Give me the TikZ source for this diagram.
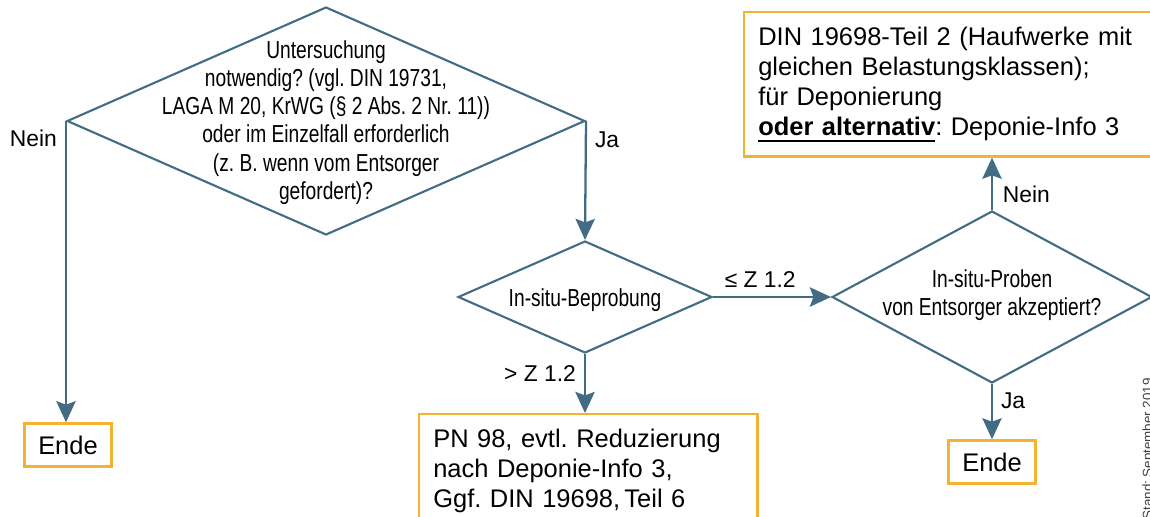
\documentclass[tikz,border=0pt]{standalone}
\usepackage{fontspec}
\setmainfont{Liberation Sans}
\newfontfamily\condfont[FakeStretch=0.78]{Liberation Sans}
\usetikzlibrary{arrows.meta,shapes.geometric,positioning}
\definecolor{flowblue}{RGB}{66,108,132}
\definecolor{boxorange}{RGB}{245,177,48}
\newcommand\dlines[2][0pt]% Syntax: [raise] {lines}, text centred without size
    {\makebox[0pt]{\raisebox{#1}[0pt][0pt]{\parbox[c]{9cm}{\centering #2}}}}
\newcommand\thickul[1]% heavy underline
    {\leavevmode\setbox0\hbox{#1}\rlap{\rule[-3.6pt]{\wd0}{1.1pt}}\box0}
\frenchspacing

\begin{document}
\begin{tikzpicture}
    [x=0.02cm,y=-0.02cm,
     decision/.style={diamond,draw=flowblue,line width=1.2pt,inner sep=0pt,
         font={\condfont\fontsize{14}{16}\selectfont}},
     result/.style={draw=boxorange,line width=1.4pt,inner xsep=8pt,inner ysep=8.5pt,
         align=left,font={\fontsize{14.5}{17}\selectfont}},
     ende/.style={draw=boxorange,line width=1.4pt,minimum width=1.74cm,minimum height=0.86cm,
         inner sep=0pt,font={\fontsize{14.5}{17}\selectfont}},
     flow/.style={draw=flowblue,line width=1.3pt,-{Stealth[length=12pt,width=11pt,inset=2pt]}},
     choice/.style={font={\fontsize{13}{15}\selectfont},inner sep=0pt}]

    \useasboundingbox (0,0) rectangle (1150,517);
    \clip (0,0) rectangle (1150,517);

    % decisions
    \node[decision,minimum width=10.36cm,minimum height=4.56cm] (check) at (326,121)
        {\dlines[-4.5pt]{Untersuchung\\notwendig? (vgl. DIN 19731,\\LAGA M 20, KrWG (§ 2 Abs. 2 Nr. 11))\\oder im Einzelfall erforderlich\\(z. B. wenn vom Entsorger\\gefordert)?}};
    \node[decision,minimum width=5.08cm,minimum height=2.24cm] (insitu) at (585,297)
        {\dlines[-5.5pt]{In-situ-Beprobung}};
    \node[decision,minimum width=6.4cm,minimum height=3.44cm] (accept) at (992,297)
        {\dlines[-2.5pt]{In-situ-Proben\\von Entsorger akzeptiert?}};

    % results
    \node[ende] (stop1) at (68,445) {Ende};
    \node[ende] (stop2) at (992,462) {Ende};
    \node[result,anchor=north west,text width=7.88cm] (din) at (743,11)
        {DIN 19698-Teil 2 (Haufwerke mit\\gleichen Belastungsklassen);\\für Deponierung\\\thickul{\textbf{oder alternativ}}: Deponie-Info 3};
    \node[result,anchor=north west,text width=6.2cm] (pn) at (418,413)
        {PN 98, evtl. Reduzierung\\nach Deponie-Info 3,\\Ggf. DIN 19698,\,Teil 6};

    % connectors
    \draw[flow] (check.west) -- node[choice,pos=0,anchor=north east,xshift=-4.5pt,yshift=-4.5pt] {Nein}
        (check.west |- stop1.north);
    \draw[flow] (check.east) -- node[choice,pos=0,anchor=north west,xshift=4.5pt,yshift=-5.5pt] {Ja}
        (insitu.north);
    \draw[flow] (insitu.east) -- node[choice,above=4.5pt,pos=0.4] {≤ Z 1.2} (accept.west);
    \draw[flow] (insitu.south) -- node[choice,left=4.5pt,pos=0.33] {> Z 1.2} (insitu.south |- pn.north);
    \draw[flow] (accept.north) -- node[choice,right=5.5pt,pos=0.3] {Nein} (accept.north |- din.south);
    \draw[flow] (accept.south) -- node[choice,right=4.5pt,pos=0.3] {Ja} (stop2.north);

    \node[rotate=90,anchor=base east,inner sep=0pt,text=black!75,
          font={\fontsize{7.6}{9}\selectfont}] (stamp) at (1152,378) {Stand: September 2019};
\end{tikzpicture}
\end{document}
